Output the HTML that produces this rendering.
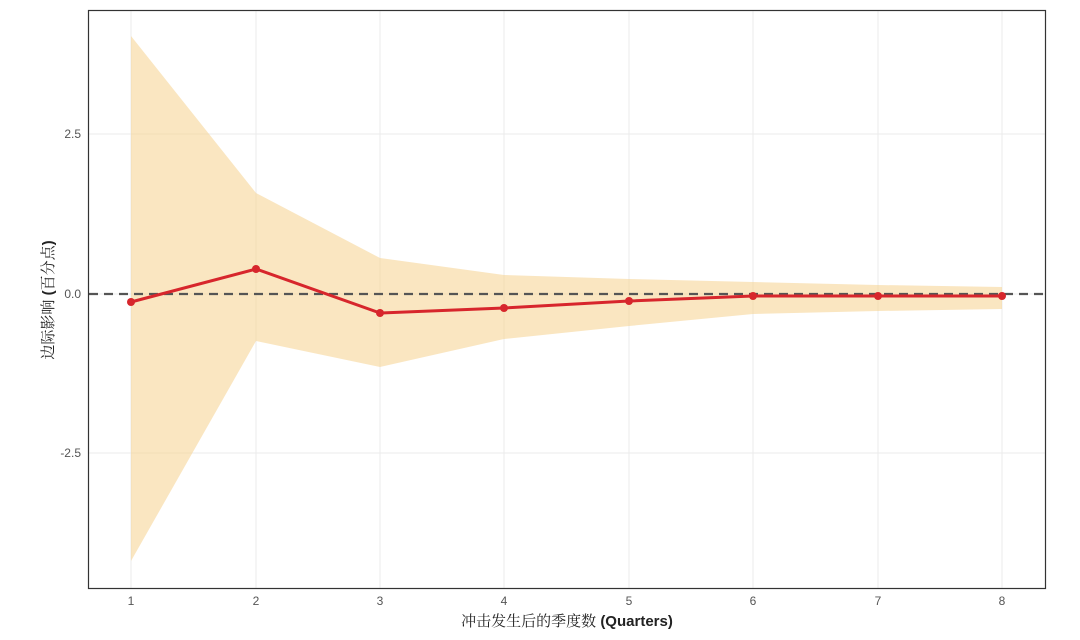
<!DOCTYPE html>
<html><head><meta charset="utf-8"><style>body{margin:0;background:#fff}</style></head><body>
<svg width="1080" height="635" xmlns="http://www.w3.org/2000/svg" font-family="Liberation Sans, Noto Sans CJK SC, sans-serif">
<rect width="1080" height="635" fill="#fff"/>
<g stroke="#ebebeb" stroke-width="1">
<line x1="131" y1="10" x2="131" y2="588"/><line x1="256" y1="10" x2="256" y2="588"/><line x1="380" y1="10" x2="380" y2="588"/><line x1="504" y1="10" x2="504" y2="588"/><line x1="629" y1="10" x2="629" y2="588"/><line x1="753" y1="10" x2="753" y2="588"/><line x1="878" y1="10" x2="878" y2="588"/><line x1="1002" y1="10" x2="1002" y2="588"/>
<line x1="89" y1="134" x2="1045" y2="134"/><line x1="89" y1="294" x2="1045" y2="294"/><line x1="89" y1="453" x2="1045" y2="453"/>
</g>
<polygon fill="#f5d28e" fill-opacity="0.55" points="131,36 256,193 380,258 504,275 629,279 753,282 878,285 1002,287 1002,309 878,311 753,314 629,326 504,339 380,367 256,341 131,561"/>
<line x1="89" y1="294" x2="1045" y2="294" stroke="#555" stroke-width="2.2" stroke-dasharray="9,6"/>
<polyline fill="none" stroke="#d7262c" stroke-width="3" points="131,302 256,269 380,313 504,308 629,301 753,296 878,296 1002,296"/>
<g fill="#d7262c"><circle cx="131" cy="302" r="4"/><circle cx="256" cy="269" r="4"/><circle cx="380" cy="313" r="4"/><circle cx="504" cy="308" r="4"/><circle cx="629" cy="301" r="4"/><circle cx="753" cy="296" r="4"/><circle cx="878" cy="296" r="4"/><circle cx="1002" cy="296" r="4"/></g>
<rect x="88.5" y="10.5" width="957" height="578" fill="none" stroke="#333" stroke-width="1.2"/>
<g font-size="12" fill="#555" text-anchor="end">
<text x="81" y="138">2.5</text><text x="81" y="298">0.0</text><text x="81" y="457">-2.5</text></g>
<g font-size="12" fill="#555" text-anchor="middle">
<text x="131" y="605">1</text><text x="256" y="605">2</text><text x="380" y="605">3</text><text x="504" y="605">4</text><text x="629" y="605">5</text><text x="753" y="605">6</text><text x="878" y="605">7</text><text x="1002" y="605">8</text></g>
<text x="567" y="626" font-size="15" fill="#222" text-anchor="middle" font-family="Liberation Sans, Noto Serif CJK SC, serif">冲击发生后的季度数 <tspan font-weight="bold">(Quarters)</tspan></text>
<text transform="translate(53,300) rotate(-90)" font-size="15" fill="#222" text-anchor="middle" font-family="Liberation Sans, Noto Serif CJK SC, serif">边际影响 <tspan font-weight="bold">(</tspan>百分点<tspan font-weight="bold">)</tspan></text>
</svg>
</body></html>
